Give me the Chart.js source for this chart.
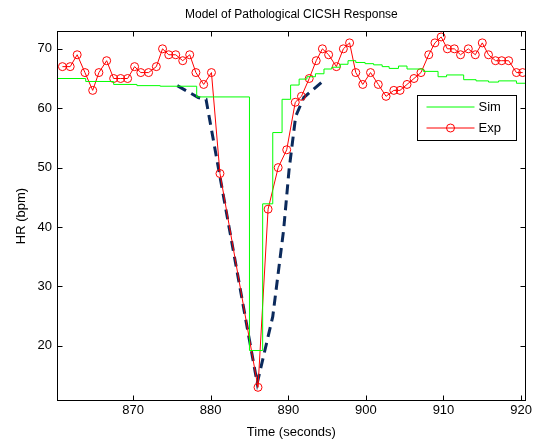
<!DOCTYPE html>
<html>
<head>
<meta charset="utf-8">
<title>Model of Pathological CICSH Response</title>
<script src="https://cdn.jsdelivr.net/npm/chart.js@4/dist/chart.umd.min.js"></script>
<style>
html, body { margin: 0; padding: 0; background: #fff; }
#wrap { width: 534px; height: 440px; position: relative; }
</style>
</head>
<body>
<div id="wrap"><canvas id="hr-chart"></canvas></div>
<script>
// values: time in seconds, heart rate in bpm
var expTime = [860.9, 861.9, 862.8, 863.8, 864.8, 865.6, 866.6, 867.5, 868.4, 869.3,
               870.2, 871.0, 872.0, 873.0, 873.8, 874.6, 875.5, 876.4, 877.3, 878.1,
               879.1, 880.1, 881.2, 886.1, 887.4, 888.7, 889.8, 890.9, 891.7, 892.7,
               893.6, 894.4, 895.2, 896.2, 897.1, 897.9, 898.7, 899.6, 900.6, 901.6,
               902.6, 903.6, 904.4, 905.3, 906.2, 907.1, 908.1, 908.9, 909.7, 910.5,
               911.4, 912.2, 913.2, 914.1, 915.0, 915.8, 916.7, 917.5, 918.4, 919.4, 920.2];
var expHR = [67, 67, 69, 66, 63, 66, 68, 65, 65, 65,
             67, 66, 66, 67, 70, 69, 69, 68, 69, 66,
             64, 66, 49, 13, 43, 50, 53, 61, 62, 65,
             68, 70, 69, 67, 70, 71, 66, 64, 66, 64,
             62, 63, 63, 64, 65, 66, 69, 71, 72, 70,
             70, 69, 70, 69, 71, 69, 68, 68, 68, 66, 66];

// simulated response (staircase, each value holds until the next time)
var simTime = [860.2, 863.9, 867.5, 870.5, 873.5, 878.2, 885.0, 886.7, 888.0, 889.2,
               890.3, 891.4, 892.4, 893.5, 894.6, 895.6, 896.7, 897.7, 898.7, 899.9,
               901.0, 902.1, 903.0, 904.2, 905.3, 907.4, 909.3, 910.4, 912.6, 914.2,
               915.8, 917.1, 919.4, 920.6];
var simHR = [65.0, 64.5, 64.0, 63.8, 63.7, 61.9, 19.2, 43.9, 55.9, 61.5,
             63.9, 64.9, 65.3, 65.8, 66.6, 66.9, 67.4, 68.0, 67.7, 67.5,
             67.3, 67.0, 66.7, 67.1, 66.6, 66.2, 65.3, 65.6, 64.8, 64.6,
             64.4, 64.6, 64.2, 64.2];

// hand drawn dashed model outline
var modelTime = [875.7, 878.4, 879.4, 886.0, 888.0, 889.4, 890.1, 890.95, 892.0, 894.5];
var modelHR = [63.8, 61.8, 61.5, 13.7, 24.9, 39.5, 49.6, 58.6, 61.8, 64.6];

var xTickVals = [870, 880, 890, 900, 910, 920];
var yTickVals = [20, 30, 40, 50, 60, 70];
var xLimits = [860.2, 920.6];
var yLimits = [10.7, 73];

var legendNames = ['Sim', 'Exp'];
var chartTitle = 'Model of Pathological CICSH Response';

const FONT = '"Liberation Sans", Arial, Helvetica, sans-serif';
const SIM_COLOR = '#00ff00';
const EXP_COLOR = '#ff0000';
const MODEL_COLOR = '#0b2a5c';

function toPoints(xs, ys) {
    return xs.map(function (x, i) { return { x: x, y: ys[i] }; });
}

// MATLAB style box, inward ticks on all four sides, title and legend
const matlabAxes = {
    id: 'matlabAxes',
    afterDraw(chart) {
        const ctx = chart.ctx;
        const a = chart.chartArea;
        const xs = chart.scales.x;
        const ys = chart.scales.y;
        const L = Math.round(a.left) + 0.5, R = Math.round(a.right) - 0.5;
        const T = Math.round(a.top) + 0.5, B = Math.round(a.bottom) - 0.5;
        ctx.save();
        ctx.strokeStyle = '#000';
        ctx.lineWidth = 1;
        ctx.strokeRect(L, T, R - L, B - T);
        ctx.beginPath();
        xTickVals.forEach(function (v) {
            const px = Math.round(xs.getPixelForValue(v)) + 0.5;
            ctx.moveTo(px, B); ctx.lineTo(px, B - 5);
            ctx.moveTo(px, T); ctx.lineTo(px, T + 5);
        });
        yTickVals.forEach(function (v) {
            const py = Math.round(ys.getPixelForValue(v)) + 0.5;
            ctx.moveTo(L, py); ctx.lineTo(L + 5, py);
            ctx.moveTo(R, py); ctx.lineTo(R - 5, py);
        });
        ctx.stroke();

        // title
        ctx.fillStyle = '#000';
        ctx.font = '12px ' + FONT;
        ctx.textAlign = 'center';
        ctx.textBaseline = 'middle';
        ctx.fillText(chartTitle, (a.left + a.right) / 2, 15);

        // legend box
        const bx = Math.round(a.right) - 108.5, by = Math.round(a.top) + 64.5;
        const bw = 99, bh = 45;
        ctx.fillStyle = '#fff';
        ctx.fillRect(bx, by, bw, bh);
        ctx.strokeRect(bx, by, bw, bh);
        const rows = [by + 11.5, by + 32.5];
        ctx.lineWidth = 1;
        ctx.strokeStyle = SIM_COLOR;
        ctx.beginPath(); ctx.moveTo(bx + 9, rows[0]); ctx.lineTo(bx + 57, rows[0]); ctx.stroke();
        ctx.strokeStyle = EXP_COLOR;
        ctx.beginPath(); ctx.moveTo(bx + 9, rows[1]); ctx.lineTo(bx + 57, rows[1]); ctx.stroke();
        ctx.beginPath(); ctx.arc(bx + 33, rows[1], 4, 0, Math.PI * 2); ctx.stroke();
        ctx.fillStyle = '#000';
        ctx.font = '13px ' + FONT;
        ctx.textAlign = 'left';
        ctx.fillText(legendNames[0], bx + 61, rows[0]);
        ctx.fillText(legendNames[1], bx + 61, rows[1]);
        ctx.restore();
    }
};

const chartData = {
    datasets: [{
        label: legendNames[0],
        data: toPoints(simTime, simHR),
        borderColor: SIM_COLOR,
        borderWidth: 1,
        pointRadius: 0,
        stepped: 'before',
        fill: false
    }, {
        label: legendNames[1],
        data: toPoints(expTime, expHR),
        borderColor: EXP_COLOR,
        borderWidth: 1,
        pointRadius: 4,
        pointStyle: 'circle',
        pointBorderColor: EXP_COLOR,
        pointBackgroundColor: 'rgba(0,0,0,0)',
        pointBorderWidth: 1,
        tension: 0,
        fill: false
    }, {
        label: 'Model',
        data: toPoints(modelTime, modelHR),
        borderColor: MODEL_COLOR,
        borderWidth: 3,
        borderDash: [10, 6],
        pointRadius: 0,
        tension: 0,
        fill: false
    }]
};

const config = {
    type: 'line',
    data: chartData,
    options: {
        responsive: true,
        maintainAspectRatio: false,
        animation: false,
        devicePixelRatio: 1,
        layout: { padding: { top: 31, right: 6, left: 0, bottom: 0 } },
        plugins: {
            legend: { display: false },
            title: { display: false },
            tooltip: { enabled: false }
        },
        scales: {
            x: {
                type: 'linear',
                min: xLimits[0],
                max: xLimits[1],
                afterBuildTicks: function (s) { s.ticks = xTickVals.map(function (v) { return { value: v }; }); },
                afterFit: function (s) { s.height = 39; },
                grid: { display: false, drawTicks: false },
                border: { display: false },
                ticks: {
                    color: '#000',
                    font: { family: FONT, size: 13 },
                    padding: 2,
                    maxRotation: 0,
                    autoSkip: false
                },
                title: {
                    display: true,
                    text: 'Time (seconds)',
                    color: '#000',
                    font: { family: FONT, size: 13 },
                    padding: { top: 0, bottom: 0 }
                }
            },
            y: {
                type: 'linear',
                min: yLimits[0],
                max: yLimits[1],
                afterBuildTicks: function (s) { s.ticks = yTickVals.map(function (v) { return { value: v }; }); },
                afterFit: function (s) { s.width = 57; },
                grid: { display: false, drawTicks: false },
                border: { display: false },
                ticks: {
                    color: '#000',
                    font: { family: FONT, size: 13 },
                    padding: 5,
                    autoSkip: false
                },
                title: {
                    display: true,
                    text: 'HR (bpm)',
                    color: '#000',
                    font: { family: FONT, size: 13 },
                    padding: { top: 14, bottom: 0 }
                }
            }
        }
    },
    plugins: [matlabAxes]
};

const hrChart = new Chart(document.getElementById('hr-chart'), config);
</script>
</body>
</html>
